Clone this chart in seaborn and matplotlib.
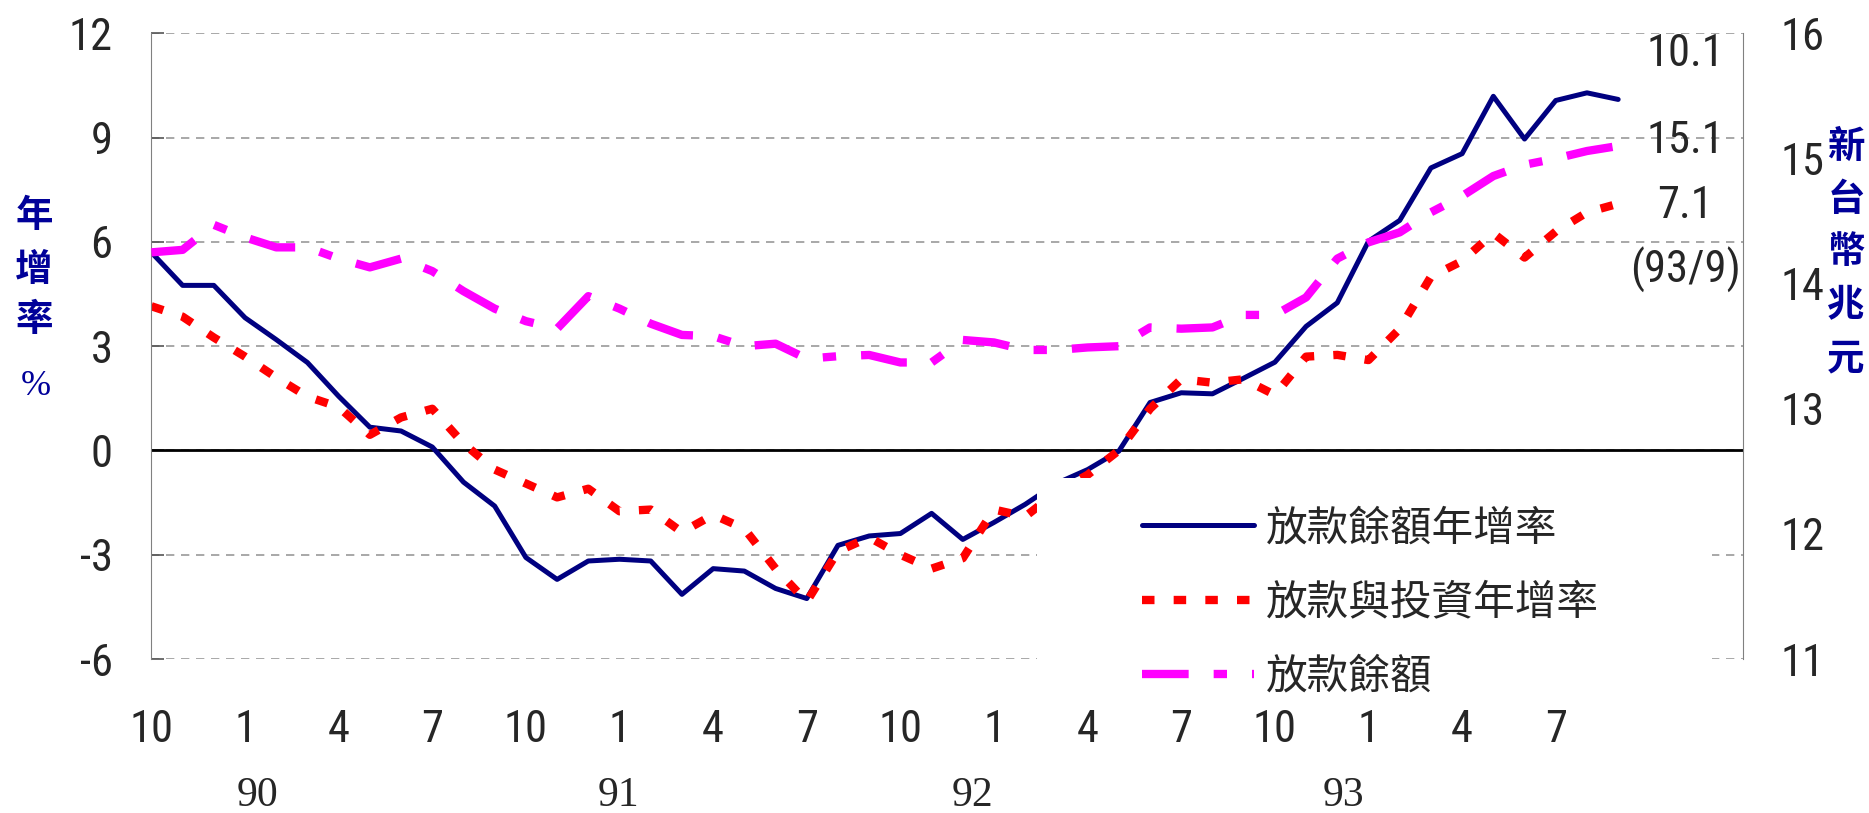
import numpy as np
import pandas as pd
import matplotlib
matplotlib.use("Agg")
import matplotlib.pyplot as plt
import seaborn as sns
from matplotlib import font_manager
from matplotlib.lines import Line2D
from matplotlib.patches import Rectangle

# -----------------------------
# 資料：89/10 ~ 93/9 月資料
# -----------------------------
periods = [f"{89 + (m + 9) // 12}/{(m + 9) % 12 + 1}" for m in range(48)]

# 放款餘額年增率 (%)
loan_growth = [5.70, 4.75, 4.75, 3.82, 3.19, 2.53, 1.56, 0.67, 0.56, 0.10,
               -0.91, -1.60, -3.08, -3.71, -3.18, -3.13, -3.18, -4.14, -3.40, -3.47,
               -3.97, -4.26, -2.73, -2.46, -2.39, -1.81, -2.56, -2.07, -1.55, -0.95,
               -0.55, -0.02, 1.38, 1.66, 1.63, 2.08, 2.54, 3.57, 4.25, 6.02,
               6.62, 8.13, 8.54, 10.19, 8.96, 10.07, 10.29, 10.10]

# 放款與投資年增率 (%)
loan_inv_growth = [4.15, 3.85, 3.25, 2.70, 2.10, 1.55, 1.25, 0.45, 0.95, 1.20,
                   0.20, -0.55, -0.95, -1.35, -1.10, -1.75, -1.70, -2.35, -1.85, -2.25,
                   -3.40, -4.35, -2.90, -2.50, -3.00, -3.40, -3.10, -1.70, -1.90, -1.20,
                   -0.70, 0.00, 1.20, 2.05, 1.95, 2.05, 1.60, 2.70, 2.75, 2.60,
                   3.50, 5.00, 5.45, 6.25, 5.55, 6.30, 6.85, 7.10]

# 放款餘額 (新台幣兆元)
loan_balance = [14.25, 14.27, 14.47, 14.37, 14.29, 14.29, 14.20, 14.13, 14.20, 14.10,
                13.94, 13.80, 13.70, 13.64, 13.90, 13.80, 13.68, 13.59, 13.58, 13.50,
                13.52, 13.40, 13.42, 13.43, 13.37, 13.37, 13.55, 13.53, 13.47, 13.47,
                13.49, 13.50, 13.65, 13.64, 13.65, 13.75, 13.75, 13.89, 14.20, 14.33,
                14.41, 14.57, 14.70, 14.86, 14.95, 15.00, 15.06, 15.10]

series_names = ["放款餘額年增率", "放款與投資年增率", "放款餘額"]
year_labels = ["90", "91", "92", "93"]
year_pos = [3.4, 14.95, 26.3, 38.2]
end_labels = ["10.1", "15.1", "7.1", "(93/9)"]

df = pd.DataFrame({
    "t": np.arange(len(periods)),
    "growth": loan_growth,
    "inv_growth": loan_inv_growth,
    "balance": loan_balance,
})

# -----------------------------
# 字型
# -----------------------------
names = {f.name for f in font_manager.fontManager.ttflist}
num_font = "Liberation Sans"
for cand in ["Liberation Sans Narrow", "Arial Narrow", "Roboto Condensed",
             "Open Sans Condensed"]:
    if cand in names:
        num_font = cand
        break
cjk_font = "Noto Serif CJK TC" if "Noto Serif CJK TC" in names else "Noto Sans CJK TC"

sns.set_style("white")
plt.rcParams["font.family"] = [num_font, "DejaVu Sans"]
plt.rcParams["axes.unicode_minus"] = False

NAVY = "#000080"
RED = "#ff0000"
MAGENTA = "#ff00ff"
LABEL_BLUE = "#000099"

red_ls = (0, (1.5, 2.3))
mag_ls = (0, (5.6, 3.0, 1.6, 3.0))

W, H = 1869, 813
fig = plt.figure(figsize=(W / 100, H / 100), dpi=100)
ax = fig.add_axes([151.4 / W, 1 - 659 / H, (1743 - 151.4) / W, (659 - 33.4) / H])
ax2 = ax.twinx()

sns.lineplot(data=df, x="t", y="growth", ax=ax, color=NAVY, linewidth=3.6, legend=False)
sns.lineplot(data=df, x="t", y="inv_growth", ax=ax, color=RED, linewidth=6,
             linestyle=red_ls, legend=False)
sns.lineplot(data=df, x="t", y="balance", ax=ax2, color=MAGENTA, linewidth=6,
             linestyle=mag_ls, legend=False)

ax.axhline(0, color="black", linewidth=2, zorder=1)

# 軸設定
ax.set_xlim(0, 51)
ax.set_ylim(-6, 12)
ax.set_yticks(np.arange(-6, 13, 3))
ax2.set_ylim(11, 16)
ax2.set_yticks(np.arange(11, 17, 1))

tick_idx = list(range(0, len(periods), 3))
ax.set_xticks(tick_idx)
ax.set_xticklabels([periods[i].split("/")[1] for i in tick_idx])

ax.set_xlabel("")
ax.set_ylabel("")
ax2.set_ylabel("")

ax.yaxis.grid(True, linestyle=(0, (5, 4)), color="#999999", linewidth=1.2)
ax.xaxis.grid(False)
ax.set_axisbelow(True)

for a in (ax, ax2):
    for s in ("top", "bottom"):
        a.spines[s].set_visible(False)
ax.spines["right"].set_visible(False)
ax2.spines["left"].set_visible(False)
ax.spines["left"].set_color("#808080")
ax2.spines["right"].set_color("#808080")

ax.tick_params(axis="y", direction="in", length=9, width=1.2, color="#555555",
               pad=28, labelsize=32)
ax.tick_params(axis="x", length=0, pad=36, labelsize=32)
ax2.tick_params(axis="y", length=0, pad=27, labelsize=32)

# 年份
for lab, xp in zip(year_labels, year_pos):
    ax.text(xp, -0.219, lab, transform=ax.get_xaxis_transform(), ha="center",
            va="center", fontsize=30, family="Liberation Serif")

# 左右軸標題（直排）
for ch, yc in zip("年增率", [216, 269, 319]):
    fig.text(34 / W, 1 - yc / H, ch, ha="center", va="center", fontsize=27,
             fontweight="bold", color=LABEL_BLUE, family=cjk_font)
fig.text(36 / W, 1 - 386 / H, "%", ha="center", va="center", fontsize=26,
         color=LABEL_BLUE, family="Liberation Serif")
for k, ch in enumerate("新台幣兆元"):
    fig.text(1846 / W, 1 - (146 + 53 * k) / H, ch, ha="center", va="center",
             fontsize=27, fontweight="bold", color=LABEL_BLUE, family=cjk_font)

# 最新值標註
for lab, yc in zip(end_labels, [54, 141, 206, 270]):
    fig.text(1685 / W, 1 - yc / H, lab, ha="center", va="center", fontsize=32)

# 圖例（白底遮住格線）
fig.add_artist(Rectangle((1037 / W, 1 - 690 / H), (1712 - 1037) / W, (690 - 478) / H,
                         transform=fig.transFigure, facecolor="white",
                         edgecolor="none", zorder=1))
handles = [
    Line2D([], [], color=NAVY, linewidth=3.6),
    Line2D([], [], color=RED, linewidth=6, linestyle=red_ls),
    Line2D([], [], color=MAGENTA, linewidth=6, linestyle=mag_ls),
]
fig.legend(handles, series_names, loc="upper left",
           bbox_to_anchor=(1142 / W, 1 - 508 / H), frameon=False,
           prop={"family": cjk_font, "size": 30}, handlelength=2.69,
           handletextpad=0.29, labelspacing=0.80, borderaxespad=0, borderpad=0)

fig.savefig("out.png", dpi=100)
